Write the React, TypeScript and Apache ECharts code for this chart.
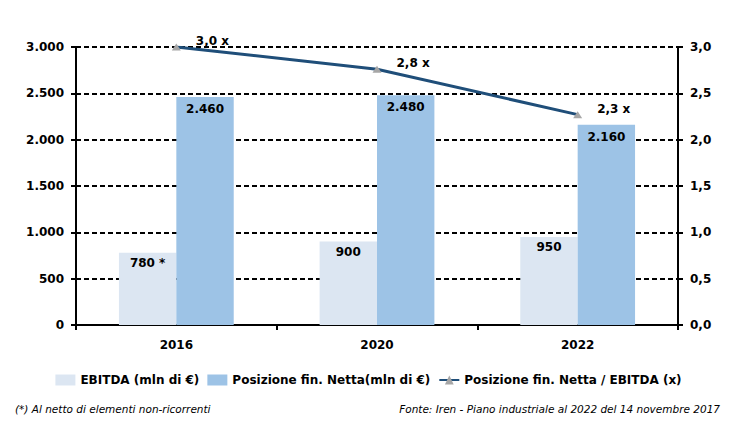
import React, { useEffect, useRef } from "react";
import * as echarts from "echarts";

const categories = ["2016", "2020", "2022"];
const ebitda = [780, 900, 950];
const ebitdaLabels = ["780 *", "900", "950"];
const pfn = [2460, 2480, 2160];
const ratio = [3.0, 2.76, 2.27];

const fmtThousands = (v: number) =>
  String(v).replace(/\B(?=(\d{3})+(?!\d))/g, ".");
const fmtDec = (v: number) => v.toFixed(1).replace(".", ",");

export default function App() {
  const ref = useRef<HTMLDivElement>(null);
  useEffect(() => {
    document.body.style.margin = "0";
    const chart = echarts.init(ref.current!, null, { renderer: "svg" });
    const font = "DejaVu Sans";
    chart.setOption({
      animation: false,
      textStyle: { fontFamily: font },
      grid: { left: 76, right: 59, top: 47, bottom: 97 },
      legend: {
        top: 369,
        left: "center",
        itemGap: 8,
        itemWidth: 20,
        itemHeight: 11,
        textStyle: { fontFamily: font, fontWeight: "bold", fontSize: 12, color: "#000" },
        data: [
          { name: "EBITDA (mln di €)", icon: "rect" },
          { name: "Posizione fin. Netta(mln di €)", icon: "rect" },
          { name: "Posizione fin. Netta / EBITDA (x)" },
        ],
      },
      xAxis: {
        type: "category",
        data: categories,
        axisLine: { lineStyle: { color: "#000", width: 2 } },
        axisTick: { show: true, length: 5, lineStyle: { color: "#000", width: 2 } },
        axisLabel: { color: "#000", fontWeight: "bold", fontSize: 12, margin: 14 },
      },
      yAxis: [
        {
          type: "value",
          min: 0,
          max: 3000,
          interval: 500,
          axisLine: { show: true, lineStyle: { color: "#000", width: 2 } },
          axisTick: { show: true, length: 5, lineStyle: { color: "#000", width: 2 } },
          axisLabel: {
            color: "#000",
            fontWeight: "bold",
            fontSize: 12,
            margin: 12,
            formatter: (v: number) => fmtThousands(v),
          },
          splitLine: { lineStyle: { color: "#000", type: [5, 3], width: 2 } },
        },
        {
          type: "value",
          min: 0,
          max: 3,
          interval: 0.5,
          position: "right",
          axisLine: { show: true, lineStyle: { color: "#000", width: 2 } },
          axisTick: { show: true, length: 5, lineStyle: { color: "#000", width: 2 } },
          axisLabel: {
            color: "#000",
            fontWeight: "bold",
            fontSize: 12,
            margin: 12,
            formatter: (v: number) => fmtDec(v),
          },
          splitLine: { show: false },
        },
      ],
      series: [
        {
          name: "EBITDA (mln di €)",
          type: "bar",
          data: ebitda,
          barWidth: "28.6%",
          barGap: "0%",
          itemStyle: { color: "#DCE6F2" },
          label: {
            show: true,
            position: "insideTop",
            distance: 4,
            color: "#000",
            fontWeight: "bold",
            fontSize: 12,
            formatter: (p: any) => ebitdaLabels[p.dataIndex],
          },
        },
        {
          name: "Posizione fin. Netta(mln di €)",
          type: "bar",
          data: pfn,
          barWidth: "28.6%",
          itemStyle: { color: "#9DC3E6" },
          label: {
            show: true,
            position: "insideTop",
            distance: 6,
            color: "#000",
            fontWeight: "bold",
            fontSize: 12,
            formatter: (p: any) => fmtThousands(p.value),
          },
        },
        {
          name: "Posizione fin. Netta / EBITDA (x)",
          type: "line",
          yAxisIndex: 1,
          data: ratio,
          symbol: "triangle",
          symbolSize: [9, 7],
          lineStyle: { color: "#1F4E79", width: 3 },
          itemStyle: { color: "#A6A6A6" },
          label: {
            show: true,
            position: "right",
            distance: 5,
            offset: [10, -6],
            color: "#000",
            fontWeight: "bold",
            fontSize: 12,
            formatter: (p: any) => fmtDec(p.value) + " x",
          },
        },
      ],
      graphic: [
        {
          type: "text",
          left: 15,
          top: 403,
          style: {
            text: "(*) Al netto di elementi non-ricorrenti",
            fontFamily: font,
            fontStyle: "italic",
            fontSize: 10.5,
            fill: "#000",
          },
        },
        {
          type: "text",
          right: 17,
          top: 403,
          style: {
            text: "Fonte: Iren - Piano industriale al 2022 del 14 novembre 2017",
            fontFamily: font,
            fontStyle: "italic",
            fontSize: 10.5,
            fill: "#000",
          },
        },
      ],
    });
    return () => chart.dispose();
  }, []);
  return <div ref={ref} style={{ width: 737, height: 422 }} />;
}
